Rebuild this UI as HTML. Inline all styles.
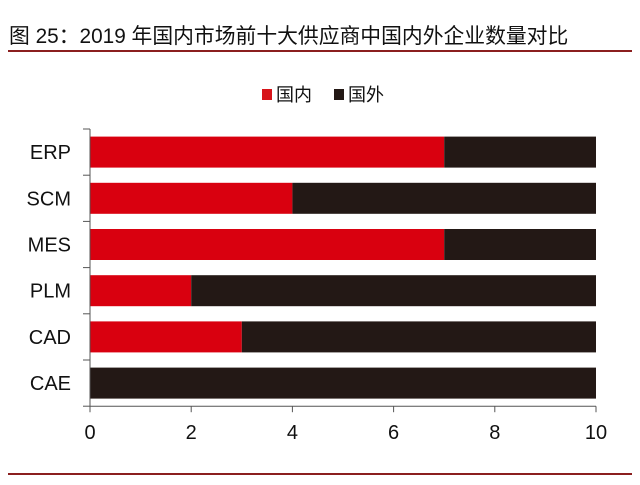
<!DOCTYPE html>
<html><head><meta charset="utf-8"><style>
body{margin:0;background:#fff;width:640px;height:480px;overflow:hidden;font-family:"Liberation Sans","Noto Sans CJK SC",sans-serif}
</style></head><body>
<svg width="640" height="480" style="font-family:'Liberation Sans','Noto Sans CJK SC',sans-serif">
<text x="9" y="43" font-size="20.8" fill="#111">图 25：2019 年国内市场前十大供应商中国内外企业数量对比</text>
<line x1="8" y1="51" x2="632" y2="51" stroke="#8b1f1f" stroke-width="2"/>
<g>
<rect x="262" y="89" width="10" height="11" fill="#d7141a"/>
<text x="276" y="101" font-size="18" fill="#111">国内</text>
<rect x="334" y="89" width="10" height="11" fill="#231815"/>
<text x="348" y="101" font-size="18" fill="#111">国外</text>
</g>
<g id="plot"></g>
<line x1="8" y1="474" x2="632" y2="474" stroke="#8b1f1f" stroke-width="2"/>
</svg>
<script>
const categories=["ERP","SCM","MES","PLM","CAD","CAE"];
const domestic=[7,4,7,2,3,0];
const foreign=[3,6,3,8,7,10];
const xTicks=[0,2,4,6,8,10];
const NS="http://www.w3.org/2000/svg";
const g=document.getElementById('plot');
const x0=90,x1=596,xMax=10,plotTop=129,band=46.2,barH=31;
const xs=v=>x0+(x1-x0)*v/xMax;
function mk(t,a){const e=document.createElementNS(NS,t);for(const k in a)e.setAttribute(k,a[k]);g.appendChild(e);return e;}
const axisY=plotTop+band*categories.length;
categories.forEach((c,i)=>{
 const y=plotTop+band*i+(band-barH)/2;
 const r1=mk('rect',{x:xs(0),y:y,width:xs(domestic[i])-xs(0),height:barH,fill:'#d9000f'});
 
 
 const r2=mk('rect',{x:xs(domestic[i]),y:y,width:xs(domestic[i]+foreign[i])-xs(domestic[i]),height:barH,fill:'#231815'});
 
 
 const t=mk('text',{x:71,y:y+barH/2+7,'font-size':20,'text-anchor':'end',fill:'#111'});
 t.textContent=c;
 
 
});
for(let i=0;i<=categories.length;i++){
 const l=mk('line',{x1:83,x2:x0,y1:plotTop+band*i,y2:plotTop+band*i,stroke:'#555'});
 
 
}
const ya=mk('line',{x1:x0,x2:x0,y1:plotTop,y2:axisY,stroke:'#555'});


const xa=mk('line',{x1:x0,x2:x1,y1:axisY,y2:axisY,stroke:'#555'});


xTicks.forEach(v=>{
 const l=mk('line',{x1:xs(v),x2:xs(v),y1:axisY,y2:axisY+6,stroke:'#555'});
 
 
 const t=mk('text',{x:xs(v),y:axisY+33,'font-size':20,'text-anchor':'middle',fill:'#111'});
 t.textContent=v;
 
 
});
</script>
</body></html>
